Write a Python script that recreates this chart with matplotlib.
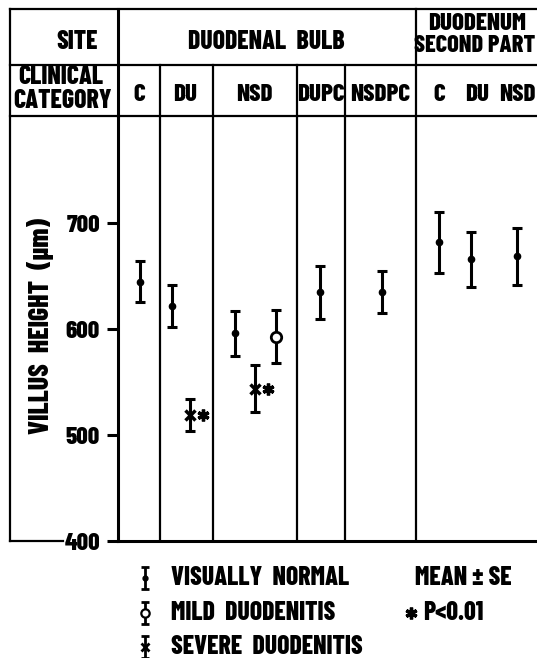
import matplotlib
matplotlib.use("Agg")
import matplotlib.pyplot as plt

plt.rcParams['font.family'] = ['Barlow Condensed', 'DejaVu Sans']
plt.rcParams['font.weight'] = 800

# data (villus height, um, mean and SE)
categories = ["C", "DU", "NSD", "DUPC", "NSDPC", "C", "DU", "NSD"]
normal_mean = [645, 622, 596, 635, 635, 682, 666, 669]
normal_se = [19, 20, 21, 25, 20, 29, 26, 27]
mild_mean = [593]          # NSD only
mild_se = [25]
severe_mean = [519, 544]   # DU, NSD
severe_se = [15, 22]
yticks = [400, 500, 600, 700]

# layout (pixel positions on the 537x658 canvas)
W, H = 537, 658
normal_x = [140, 172, 235, 320, 381.5, 438.5, 471, 516.5]
mild_x = [276]
severe_x = [189.5, 255]
label_x = [139, 185, 254, 321, 380.5, 439, 477, 517]
px_per_unit = 1.059
y_bottom = 541
y_header = 116

fig = plt.figure(figsize=(W / 100, H / 100), dpi=100)

# data axes, x in pixels, y in um
ax = fig.add_axes([118 / W, 1 - y_bottom / H, (W - 118) / W, (y_bottom - y_header) / H])
ax.set_facecolor('none')
ax.set_xlim(118, W)
ax.set_ylim(400, 400 + (y_bottom - y_header) / px_per_unit)
for s in ['top', 'right']:
    ax.spines[s].set_visible(False)
ax.spines['left'].set_linewidth(2.2)
ax.spines['bottom'].set_linewidth(2.2)
ax.set_xticks([])
ax.set_yticks(yticks)
ax.set_yticklabels([str(t) for t in yticks], fontsize=18, fontweight=800)
ax.tick_params(axis='y', direction='out', length=8, width=2.2, pad=5)

ebkw = dict(fmt='none', ecolor='black', elinewidth=2.2, capsize=3.8, capthick=2.2, zorder=3)
ax.errorbar(normal_x, normal_mean, yerr=normal_se, **ebkw)
ax.plot(normal_x, normal_mean, 'o', color='black', ms=4.5, zorder=4)
ax.errorbar(mild_x, mild_mean, yerr=mild_se, **ebkw)
ax.plot(mild_x, mild_mean, 'o', mfc='white', mec='black', mew=2, ms=7.5, zorder=4)
ax.errorbar(severe_x, severe_mean, yerr=severe_se, **ebkw)
ax.plot(severe_x, severe_mean, 'x', color='black', mew=2.5, ms=7, zorder=4)
# significance stars next to the severe points
for x, m in zip(severe_x, severe_mean):
    ax.plot(x + 13, m, marker=(6, 2, 0), color='black', ms=8.5, mew=2.4, zorder=4)

# overlay for the table frame, header text and legend
ov = fig.add_axes([0, 0, 1, 1])
ov.set_xlim(0, W)
ov.set_ylim(H, 0)
ov.axis('off')
ov.patch.set_alpha(0)

lw = 1.6
ov.plot([10, W], [8.5, 8.5], color='black', lw=lw)
ov.plot([10, W], [65, 65], color='black', lw=lw)
ov.plot([10, W], [y_header, y_header], color='black', lw=lw)
ov.plot([10, 10], [8.5, y_bottom], color='black', lw=lw)
ov.plot([10, 63], [y_bottom, y_bottom], color='black', lw=lw)
ov.plot([118, 118], [8.5, y_header], color='black', lw=2.2)
ov.plot([416, 416], [8.5, y_bottom], color='black', lw=lw)
for x in [160, 212.5, 296.5, 345]:
    ov.plot([x, x], [65, y_bottom], color='black', lw=lw)

fs = 18.5
ov.text(77, 42, "SITE", fontsize=fs, ha='center', va='center')
ov.text(266, 42, "DUODENAL  BULB", fontsize=fs, ha='center', va='center')
ov.text(477, 24, "DUODENUM", fontsize=18, ha='center', va='center')
ov.text(475, 46, "SECOND PART", fontsize=17.5, ha='center', va='center')
ov.text(61, 77, "CLINICAL", fontsize=fs, ha='center', va='center')
ov.text(62, 101, "CATEGORY", fontsize=fs, ha='center', va='center')
for x, c in zip(label_x, categories):
    ov.text(x, 95, c, fontsize=18, ha='center', va='center')

ov.text(41, 326, "VILLUS  HEIGHT  (\u00b5m)", fontsize=20, ha='center', va='center', rotation=90)

# legend
leg_y = [578, 613, 647]
leg_text = ["VISUALLY  NORMAL", "MILD  DUODENITIS", "SEVERE  DUODENITIS"]
for yy, t in zip(leg_y, leg_text):
    ov.errorbar([145], [yy], yerr=[11], fmt='none', ecolor='black', elinewidth=2, capsize=3, capthick=2)
    ov.text(171, yy, t, fontsize=fs, ha='left', va='center')
ov.plot([145], [leg_y[0]], 'o', color='black', ms=3.5)
ov.plot([145], [leg_y[1]], 'o', mfc='white', mec='black', mew=1.6, ms=6)
ov.plot([145], [leg_y[2]], 'x', color='black', mew=2, ms=6)
ov.text(415, leg_y[0], "MEAN \u00b1 SE", fontsize=fs, ha='left', va='center')
ov.plot([411], [leg_y[1]], marker=(6, 2, 0), color='black', ms=8.5, mew=2.4)
ov.text(423, leg_y[1], "P<0.01", fontsize=fs, ha='left', va='center')

fig.savefig("out.png", dpi=100)
